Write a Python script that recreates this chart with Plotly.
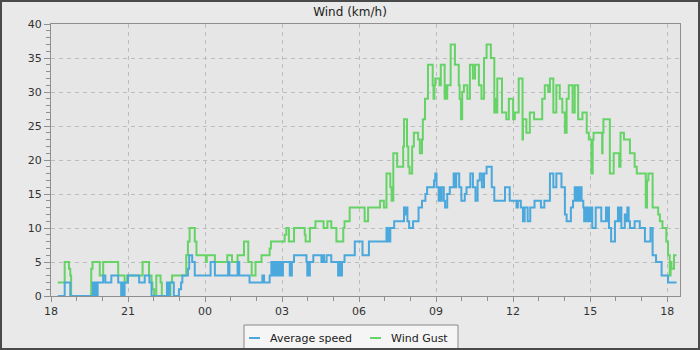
import plotly.graph_objects as go
from datetime import datetime, timedelta

# ---------------- data (km/h), step changes; clock times from 18:00 day 1 to 18:22 day 2
gust_time = ["18:16","18:32","18:42","18:45","18:47","19:34","19:37","19:54","20:02","20:37",
             "20:52","20:58","21:34","21:49","21:55","21:57","22:01","22:06","22:16","22:19",
             "22:39","22:43","23:16","23:20","23:24","23:36","23:40","00:02","00:04","00:23",
             "00:52","01:03","01:16","01:31","01:41","01:49","01:58","02:12","02:31","02:34",
             "03:06","03:10","03:16","03:28","03:53","03:55","04:05","04:18","04:37","04:46",
             "04:55","05:07","05:23","05:26","05:38","06:13","06:21","06:49","06:58","07:04",
             "07:13","07:16","07:20","07:29","07:43","07:45","07:52","07:55","07:58","08:04",
             "08:08","08:18","08:22","08:27","08:29","08:34","08:41","08:52","08:54","08:56",
             "08:58","09:08","09:11","09:20","09:23","09:25","09:26","09:34","09:44","09:53",
             "09:55","09:58","10:01","10:05","10:13","10:19","10:26","10:31","10:40","10:46",
             "10:52","10:58","11:08","11:16","11:19","11:21","11:23","11:34","11:44","11:50",
             "12:00","12:04","12:13","12:22","12:23","12:31","12:39","12:49","13:08","13:14",
             "13:22","13:26","13:34","13:41","13:49","13:55","14:01","14:05","14:10","14:19",
             "14:24","14:32","14:42","14:52","14:57","15:03","15:06","15:08","15:28","15:29",
             "15:31","15:46","15:55","16:08","16:11","16:19","16:33","16:44","16:49","17:10",
             "17:13","17:16","17:26","17:39","17:43","17:49","17:58","18:02","18:06","18:08",
             "18:10","18:16","18:22"]
gust_kmh = [2,5,4,3,0,4,5,3,5,3,
            2,3,5,3,2,1,0,3,2,0,
            2,3,6,8,10,8,6,5,6,5,
            6,5,6,8,5,3,5,6,7,8,
            9,10,8,10,9,8,10,11,10,11,
            10,8,10,11,13,11,13,14,13,18,
            16,14,21,19,22,26,22,19,18,22,
            24,23,21,23,26,29,34,31,29,31,
            32,31,34,29,31,29,31,37,34,31,
            29,26,30,31,29,34,32,34,31,29,
            35,37,35,27,29,27,32,27,26,29,
            26,27,32,23,26,24,27,26,29,31,
            30,32,27,31,29,27,24,29,31,27,
            31,26,27,24,23,18,23,24,21,24,
            26,18,21,19,24,23,21,19,18,13,
            17,18,13,12,11,10,8,6,3,5,
            4,6,6]

avg_time = ["18:16","18:32","18:45","19:38","19:41","19:43","19:46","19:49","20:02","20:07",
            "20:21","20:37","20:44","20:47","20:49","20:52","21:00","21:26","21:39","21:50",
            "21:55","22:31","22:34","22:37","22:47","22:59","23:04","23:07","23:20","23:23",
            "23:30","23:36","00:13","00:23","00:54","00:57","01:16","01:20","01:44","02:14",
            "02:18","02:31","02:35","02:39","02:42","02:44","02:47","02:50","02:53","02:55",
            "02:58","03:00","03:02","03:18","03:20","03:22","03:23","03:28","03:57","03:59",
            "04:01","04:03","04:05","04:13","04:32","04:36","04:38","04:44","04:55","05:11",
            "05:15","05:17","05:20","05:26","05:50","06:08","06:23","07:04","07:06","07:08",
            "07:11","07:13","07:22","07:45","07:48","07:50","07:53","07:57","08:06","08:19",
            "08:27","08:35","08:39","08:55","08:58","09:01","09:06","09:08","09:09","09:13",
            "09:18","09:21","09:26","09:32","09:41","09:44","09:47","09:54","09:59","10:07",
            "10:11","10:20","10:26","10:32","10:37","10:42","10:47","10:52","10:58","11:10",
            "11:16","11:41","11:52","12:08","12:11","12:18","12:23","12:27","12:34","12:40",
            "12:50","13:05","13:13","13:26","13:34","13:41","13:53","14:01","14:05","14:15",
            "14:20","14:24","14:27","14:30","14:33","14:36","14:40","14:44","14:46","14:49",
            "14:52","14:55","14:59","15:02","15:05","15:13","15:26","15:37","15:39","15:41",
            "15:44","15:49","15:58","16:05","16:08","16:10","16:13","16:21","16:24","16:27",
            "16:30","16:33","16:44","16:56","17:08","17:21","17:26","17:34","17:47","18:02",
            "18:22"]
avg_kmh = [0,2,0,2,0,2,0,2,3,2,
           3,2,0,2,0,2,3,2,3,2,
           0,2,0,2,0,1,2,3,4,6,
           5,3,5,3,5,3,5,3,2,3,
           2,3,5,3,5,3,5,3,5,3,
           5,3,5,3,5,3,5,6,5,3,
           5,3,5,6,5,6,5,6,5,3,
           5,3,5,6,8,6,8,10,8,10,
           8,10,11,13,12,13,11,10,11,13,
           14,15,16,17,18,16,14,16,14,16,
           14,13,15,16,18,16,18,16,14,15,
           16,18,16,14,17,18,16,18,19,16,
           14,16,14,13,14,13,11,13,11,13,
           14,13,14,18,16,18,16,12,11,13,
           14,16,14,16,14,16,14,13,11,13,
           11,13,11,13,10,13,11,13,11,13,
           10,8,11,13,11,13,10,12,11,13,
           11,10,11,10,8,10,6,5,3,2,
           2]

y_ticks = [0, 5, 10, 15, 20, 25, 30, 35, 40]
x_tick_labels = ["18", "21", "00", "03", "06", "09", "12", "15", "18"]


def to_datetimes(times):
    out, day, prev = [], 0, None
    for s in times:
        h, m = map(int, s.split(":"))
        mins = h * 60 + m
        if prev is not None and mins < prev:
            day += 1
        prev = mins
        out.append(datetime(2024, 5, 1, h, m) + timedelta(days=day))
    return out


t_gust = to_datetimes(gust_time)
t_avg = to_datetimes(avg_time)
x_start = datetime(2024, 5, 1, 18, 0)
x_end = datetime(2024, 5, 2, 18, 30)
tick_vals = [x_start + timedelta(hours=3 * i) for i in range(len(x_tick_labels))]

BLUE = "#4aa8dc"
GREEN = "#66d366"
AXIS = "#8f8f8f"
GRID = "#bdbdbd"
FONT = "DejaVu Sans"

W, H = 700, 350
ML, MR, MT, MB = 51, 20, 24, 54
PW, PH = W - ML - MR, H - MT - MB


def px(xp):
    return (xp - ML) / PW


def py(yp):
    return (H - MB - yp) / PH


fig = go.Figure()
fig.add_trace(go.Scatter(x=t_gust, y=gust_kmh, mode="lines", name="Wind Gust",
                         line=dict(color=GREEN, width=2, shape="hv"), showlegend=False))
fig.add_trace(go.Scatter(x=t_avg, y=avg_kmh, mode="lines", name="Average speed",
                         line=dict(color=BLUE, width=2, shape="hv"), showlegend=False))

shapes = []
# legend box
shapes.append(dict(type="rect", xref="paper", yref="paper",
                   x0=px(244), x1=px(458), y0=py(352), y1=py(325),
                   fillcolor="#f5f5f5", line=dict(color="#888888", width=1), layer="above"))
shapes.append(dict(type="line", xref="paper", yref="paper",
                   x0=px(249), x1=px(260), y0=py(338), y1=py(338),
                   line=dict(color=BLUE, width=2)))
shapes.append(dict(type="line", xref="paper", yref="paper",
                   x0=px(370), x1=px(381), y0=py(338), y1=py(338),
                   line=dict(color=GREEN, width=2)))
# outer frame
shapes.append(dict(type="rect", xref="paper", yref="paper",
                   x0=px(0), x1=px(W), y0=py(H), y1=py(0),
                   fillcolor="rgba(0,0,0,0)", line=dict(color="#4a4a4a", width=4), layer="above"))

annotations = [
    dict(text="Average speed", xref="paper", yref="paper", x=px(268), y=py(338),
         xanchor="left", yanchor="middle", showarrow=False,
         font=dict(family=FONT, size=11, color="#222222")),
    dict(text="Wind Gust", xref="paper", yref="paper", x=px(389), y=py(338),
         xanchor="left", yanchor="middle", showarrow=False,
         font=dict(family=FONT, size=11, color="#222222")),
]

fig.update_layout(
    width=W, height=H,
    margin=dict(l=ML, r=MR, t=MT, b=MB),
    paper_bgcolor="#e9e9e9",
    plot_bgcolor="#e6e6e6",
    font=dict(family=FONT, size=11, color="#333333"),
    title=dict(text="Wind (km/h)", x=0.5, xref="container", xanchor="center",
               y=1 - 12 / H, yref="container", yanchor="middle",
               font=dict(family=FONT, size=12, color="#222222")),
    shapes=shapes,
    annotations=annotations,
    showlegend=False,
)
fig.update_xaxes(
    type="date", range=[x_start, x_end],
    tickmode="array", tickvals=tick_vals, ticktext=x_tick_labels,
    showgrid=True, gridcolor=GRID, griddash="4px,4px", gridwidth=1,
    showline=True, linecolor=AXIS, linewidth=1, mirror=True,
    ticks="outside", ticklen=5, tickcolor=AXIS,
    minor=dict(dtick=3600000, tick0=x_start, ticks="outside", ticklen=4,
               tickcolor=AXIS, showgrid=False),
    zeroline=False, tickfont=dict(size=11, color="#333333"),
)
fig.update_yaxes(
    range=[0, 40], tickmode="array", tickvals=y_ticks,
    showgrid=True, gridcolor=GRID, griddash="4px,4px", gridwidth=1,
    showline=True, linecolor=AXIS, linewidth=1, mirror=True,
    ticks="outside", ticklen=6, tickcolor=AXIS,
    minor=dict(dtick=1, tick0=0, ticks="outside", ticklen=4,
               tickcolor=AXIS, showgrid=False),
    zeroline=False, tickfont=dict(size=11, color="#333333"),
)

fig.write_html("out.html", config={"displayModeBar": False},
               post_script="document.body.style.margin='0';")
